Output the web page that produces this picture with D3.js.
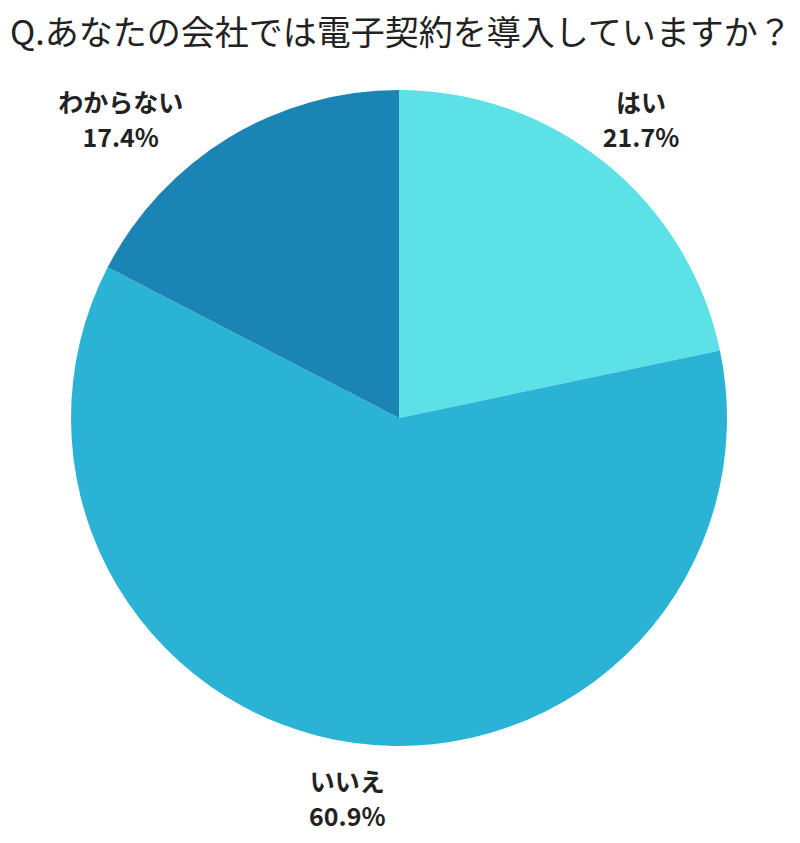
<!DOCTYPE html>
<html>
<head>
<meta charset="utf-8">
<script src="https://cdn.jsdelivr.net/npm/d3@7"></script>
<style>
  html, body { margin: 0; padding: 0; background: #fff; }
  svg text { font-family: "Noto Sans CJK JP", "Noto Sans", sans-serif; fill: #222; }
</style>
</head>
<body>
<svg id="chart" width="800" height="843"></svg>
<script>
  // data
  const title = 'Q.あなたの会社では電子契約を導入していますか？';
  const categories = ['はい', 'いいえ', 'わからない'];
  const values = [21.7, 60.9, 17.4];
  const colors = ['#5ce1e6', '#2bb3d5', '#1a84b5'];

  const width = 800, height = 843;
  const cx = 399, cy = 418, radius = 328;
  const labelRadius = 384;
  // the "わからない" label sits further round and further out than its slice middle
  const labelShift = [0, 0, -0.204];
  const labelPush = [0, 0, 24];

  const svg = d3.select('#chart');

  svg.append('text')
      .attr('x', 10)
      .attr('y', 45)
      .attr('font-size', 34)
      .text(title);

  const pie = d3.pie().sort(null).value(d => d.value);
  const slices = pie(categories.map((c, i) => ({ name: c, value: values[i], color: colors[i] })));

  const arc = d3.arc().innerRadius(0).outerRadius(radius);

  const g = svg.append('g').attr('transform', 'translate(' + cx + ',' + cy + ')');

  g.selectAll('path.slice')
      .data(slices)
      .enter().append('path')
      .attr('class', 'slice')
      .attr('d', arc)
      .attr('fill', d => d.data.color);

  const label = g.selectAll('g.label')
      .data(slices)
      .enter().append('g')
      .attr('class', 'label')
      .attr('transform', (d, i) => {
        const a = (d.startAngle + d.endAngle) / 2 + labelShift[i];
        const r = labelRadius + labelPush[i];
        return 'translate(' + (r * Math.sin(a)) + ',' + (-r * Math.cos(a)) + ')';
      });

  label.append('text')
      .attr('text-anchor', 'middle')
      .attr('y', -8)
      .attr('font-size', 25)
      .attr('font-weight', 'bold')
      .text(d => d.data.name);

  label.append('text')
      .attr('text-anchor', 'middle')
      .attr('y', 27)
      .attr('font-size', 25)
      .attr('font-weight', 'bold')
      .text(d => d.data.value.toFixed(1) + '%');
</script>
</body>
</html>
